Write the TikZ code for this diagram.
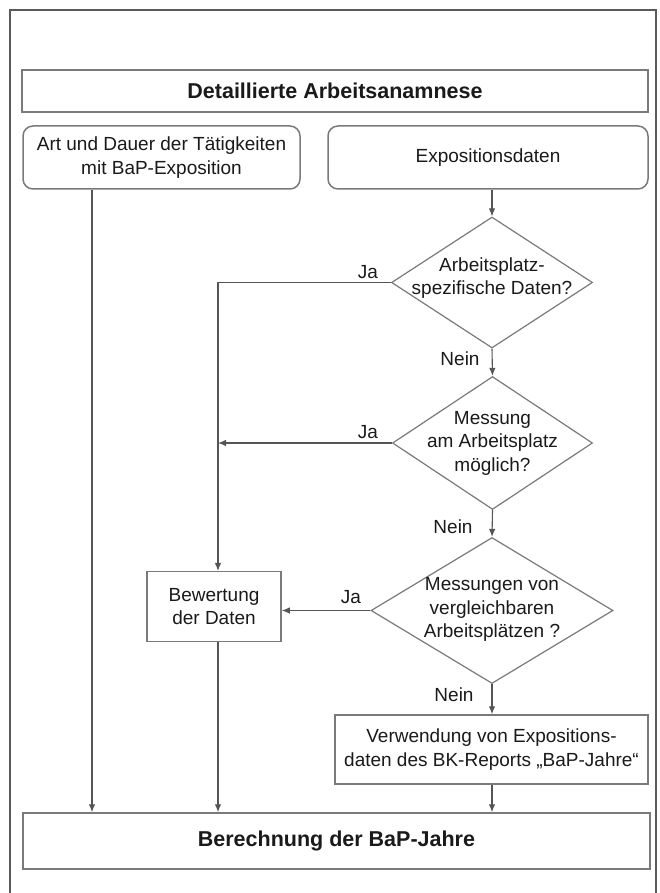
\documentclass[tikz,border=0pt]{standalone}
\usepackage{fontspec}
\setmainfont{Liberation Sans}
\usetikzlibrary{arrows.meta,shapes.geometric}
\definecolor{linec}{HTML}{555555}
\definecolor{boxc}{HTML}{7A7A7A}
\definecolor{framec}{HTML}{5A5A5A}
\definecolor{txt}{HTML}{1A1A1A}
\begin{document}
\begin{tikzpicture}[x=1pt,y=-1pt,
  box/.style={draw=boxc, line width=1.5pt, fill=white, inner sep=0pt, text=txt, align=center, font=\fontsize{19}{23.5}\selectfont},
  rbox/.style={box, rounded corners=10pt},
  bbox/.style={box, font=\fontsize{21.5}{26}\selectfont\bfseries},
  dia/.style={diamond, draw=boxc, line width=1.2pt, inner sep=0pt},
  txtn/.style={text=txt, align=center, font=\fontsize{19}{23.5}\selectfont, inner sep=0pt},
  lbl/.style={text=txt, font=\fontsize{19}{23.5}\selectfont, inner sep=0pt},
  conn/.style={draw=linec, line width=1.1pt},
  arr/.style={conn, -{Latex[length=8pt,width=6.5pt]}}
]
\useasboundingbox (0,0) rectangle (660,893);
\fill[white] (0,0) rectangle (660,893);
\draw[framec, line width=2pt] (10,900) -- (10,10) -- (656,10) -- (656,900);

\coordinate (jx) at (218,0);
\coordinate (ax) at (92,0);

\node[bbox, minimum width=626pt, minimum height=42pt] (top) at (335,91) {Detaillierte Arbeitsanamnese};
\node[rbox, minimum width=277pt, minimum height=63pt] (art) at (161.5,157.5) {Art und Dauer der Tätigkeiten\\mit BaP-Exposition};
\node[rbox, minimum width=320pt, minimum height=63pt] (expo) at (488,157.5) {Expositionsdaten};

\node[dia, minimum width=201pt, minimum height=131pt] (d1) at (492,282.5) {};
\node[txtn] (d1t) at (492,278) {Arbeitsplatz-\\spezifische Daten?};
\node[dia, minimum width=200pt, minimum height=133pt] (d2) at (492.5,443) {};
\node[txtn] (d2t) at (492.5,443) {Messung\\am Arbeitsplatz\\möglich?};
\node[dia, minimum width=242pt, minimum height=146pt] (d3) at (492,610.5) {};
\node[txtn] (d3t) at (492,609.5) {Messungen von\\vergleichbaren\\Arbeitsplätzen ?};

\node[box, minimum width=134pt, minimum height=70pt] (bew) at (214,606.7) {Bewertung\\der Daten};
\node[box, minimum width=313pt, minimum height=69pt] (verw) at (491.5,749.5) {Verwendung von Expositions-\\daten des BK-Reports „BaP-Jahre“};
\node[bbox, minimum width=627pt, minimum height=56pt] (bot) at (336.5,841) {Berechnung der BaP-Jahre};

\node[lbl] (ja1) at (368,271.7) {Ja};
\node[lbl] (ja2) at (368,432) {Ja};
\node[lbl] (ja3) at (351,597) {Ja};
\node[lbl] (ne1) at (460,359) {Nein};
\node[lbl] (ne2) at (453,527) {Nein};
\node[lbl] (ne3) at (454,695) {Nein};

\draw[arr] (expo.south -| d1.north) -- (d1.north);
\draw[arr] (d1.west) -- (d1.west -| jx) -- (bew.north -| jx);
\draw[arr] (d2.west) -- (d2.west -| jx);
\draw[arr] (d3.west) -- (d3.west -| bew.east);
\draw[arr] (d1.south) -- (d2.north);
\draw[arr] (d2.south) -- (d3.north);
\draw[arr] (d3.south) -- (verw.north -| d3.south);
\draw[arr] (verw.south -| d3.south) -- (bot.north -| d3.south);
\draw[arr] (bew.south -| jx) -- (bot.north -| jx);
\draw[arr] (art.south -| ax) -- (bot.north -| ax);
\end{tikzpicture}
\end{document}
